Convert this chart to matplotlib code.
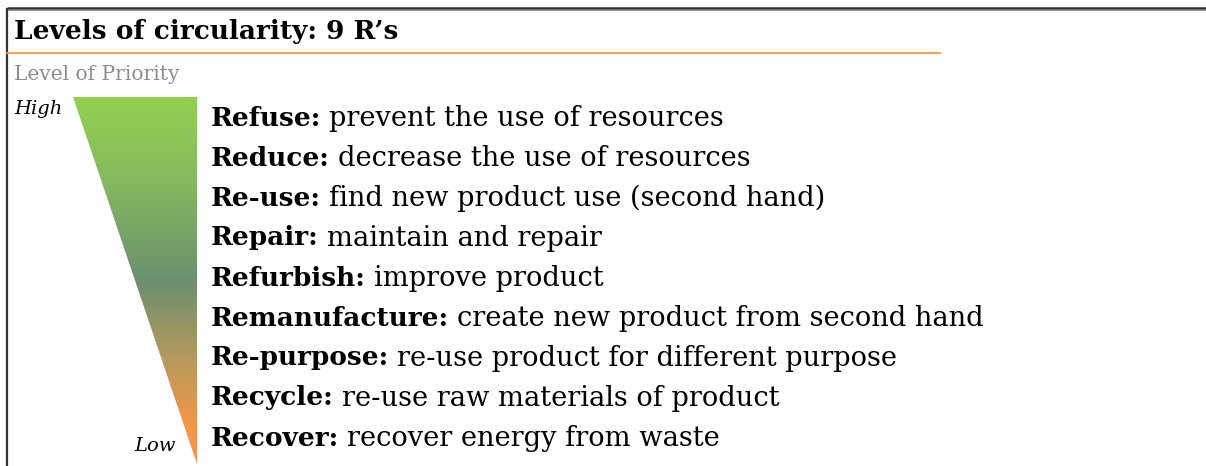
import matplotlib
matplotlib.use("Agg")
import matplotlib.pyplot as plt
import numpy as np
from matplotlib.colors import LinearSegmentedColormap
from matplotlib.patches import Polygon

title = "Levels of circularity: 9 R\u2019s"
subtitle = "Level of Priority"
high_label = "High"
low_label = "Low"
terms = ["Refuse:", "Reduce:", "Re-use:", "Repair:", "Refurbish:",
         "Remanufacture:", "Re-purpose:", "Recycle:", "Recover:"]
descriptions = ["prevent the use of resources",
                "decrease the use of resources",
                "find new product use (second hand)",
                "maintain and repair",
                "improve product",
                "create new product from second hand",
                "re-use product for different purpose",
                "re-use raw materials of product",
                "recover energy from waste"]
gradient_stops = [0.0, 0.22, 0.5, 0.72, 0.9, 1.0]
gradient_colors = ["#92d050", "#86bb5e", "#6b8f70", "#b89a5c", "#f79646", "#f79646"]

FONT = "DejaVu Serif"

fig = plt.figure(figsize=(12.06, 4.66), dpi=100)
ax = fig.add_axes([0, 0, 1, 1])
ax.set_xlim(0, 1206)
ax.set_ylim(466, 0)
ax.axis("off")

# frame
ax.plot([7, 1206], [8, 8], color="#333333", lw=1.8, solid_capstyle="butt")
ax.plot([7, 1206], [9.6, 9.6], color="#999999", lw=0.8, solid_capstyle="butt")
ax.plot([7, 7], [8, 466], color="#333333", lw=1.6, solid_capstyle="butt")
# orange rule
ax.plot([7, 940], [53, 53], color="#f79646", lw=1.3)

ax.text(14, 32, title, fontsize=19, fontweight="bold", family=FONT,
        va="center", ha="left", color="black")
ax.text(14, 75, subtitle, fontsize=14.5, family=FONT, va="center", ha="left",
        color="#8c8c8c")
ax.text(14, 109, high_label, fontsize=14, family=FONT, style="italic",
        va="center", ha="left", color="black")
ax.text(176, 446, low_label, fontsize=14, family=FONT, style="italic",
        va="center", ha="right", color="black")

# gradient triangle
cmap = LinearSegmentedColormap.from_list("prio", list(zip(gradient_stops, gradient_colors)))
grad = np.linspace(0, 1, 256).reshape(-1, 1)
im = ax.imshow(grad, cmap=cmap, aspect="auto", extent=[73, 197, 464, 97],
               interpolation="bilinear", zorder=2)
tri = Polygon([[73, 97], [197, 97], [197, 464]], closed=True,
              transform=ax.transData, facecolor="none", edgecolor="none")
ax.add_patch(tri)
im.set_clip_path(tri)

# rows
y0, dy = 118, 40
fig.canvas.draw()
renderer = fig.canvas.get_renderer()
for i, (t, d) in enumerate(zip(terms, descriptions)):
    y = y0 + i * dy
    tt = ax.text(211, y, t, fontsize=19, fontweight="bold", family=FONT,
                 va="center", ha="left", color="black")
    bb = tt.get_window_extent(renderer=renderer)
    x_end = ax.transData.inverted().transform((bb.x1, 0))[0]
    ax.text(x_end + 8, y, d, fontsize=19.6, family=FONT, va="center",
            ha="left", color="black")

fig.savefig("out.png", dpi=100)
